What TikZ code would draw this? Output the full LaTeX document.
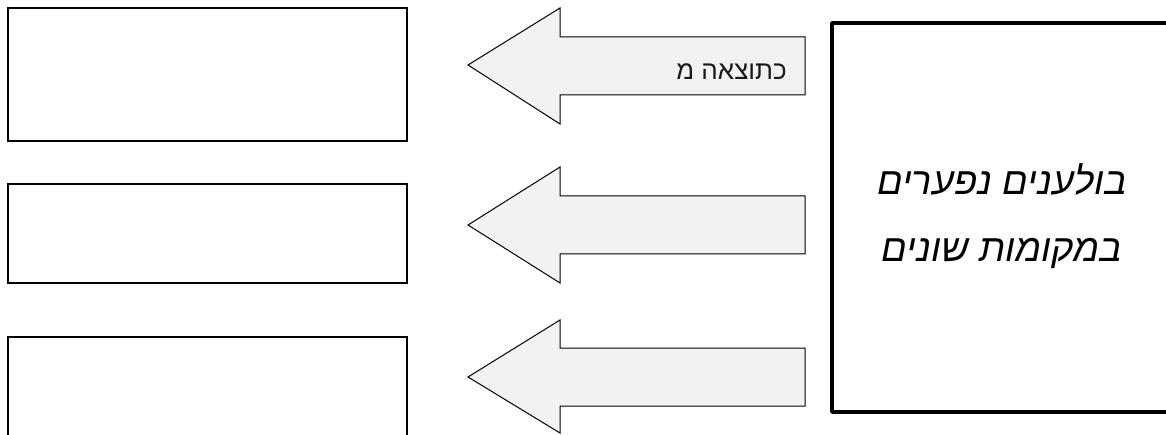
\documentclass[tikz,border=0pt]{standalone}
\usepackage{fontspec}
\newfontfamily\heb[Script=Hebrew]{Liberation Sans}
\TeXXeTstate=1
\begin{document}
\begin{tikzpicture}[x=1pt,y=1pt,
  emptybox/.style={draw=black,line width=1.3pt,fill=white},
  blockarrow/.style={draw=black,line width=1pt,fill=black!5,line join=miter},
  bigbox/.style={draw=black,line width=3.8pt,fill=white,line join=round}]
\useasboundingbox (0,0) rectangle (1166,434);
% left boxes (y flipped: 434 - ypx)
\draw[emptybox] (8,426) rectangle (407,293) node[coordinate] (b1) {};
\draw[emptybox] (8,250) rectangle (407,151) node[coordinate] (b2) {};
\draw[emptybox] (8,97) rectangle (407,-20) node[coordinate] (b3) {};
% arrows
\coordinate (t1) at (468,369);
\draw[blockarrow] (t1) -- (560,426) -- (560,397) -- (805,397) -- (805,339) -- (560,339) -- (560,310) -- cycle;
\coordinate (t2) at (468,209);
\draw[blockarrow] (t2) -- (560,267) -- (560,238) -- (805,238) -- (805,180) -- (560,180) -- (560,151) -- cycle;
\coordinate (t3) at (468,57);
\draw[blockarrow] (t3) -- (560,114) -- (560,86) -- (805,86) -- (805,28) -- (560,28) -- (560,1) -- cycle;
\node[text=black!90,font=\heb\fontsize{26}{30}\selectfont,anchor=east,inner sep=0pt] (lab) at (787,362) {\beginR כתוצאה מ\endR};
% big box
\draw[bigbox] (1180,411) -- (832,411) -- (832,22) -- (1180,22);
\node[align=center,font=\heb\itshape\fontsize{38}{67}\selectfont] (main) at (1002,218) {\beginR בולענים נפערים\endR\\\beginR במקומות שונים\endR};
\end{tikzpicture}
\end{document}
